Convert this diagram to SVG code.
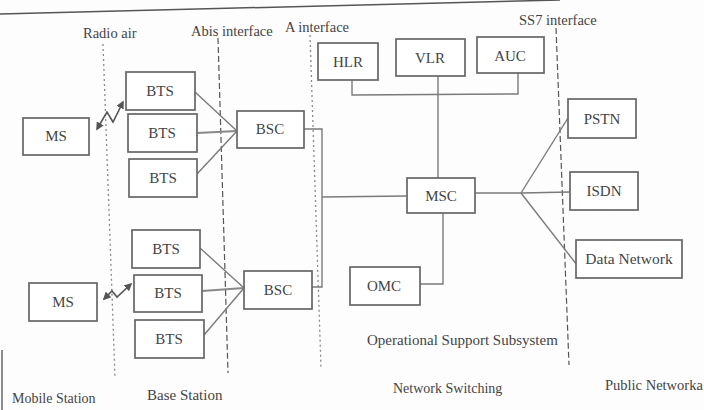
<svg xmlns="http://www.w3.org/2000/svg" width="704" height="410" viewBox="0 0 704 410">
<defs>
<style>
.box{fill:#fff;stroke:#666;stroke-width:1.7}
text{font-family:'Liberation Serif','Times New Roman','DejaVu Serif',serif;fill:#444}
.bt{font-size:15px;text-anchor:middle}
.lb{font-size:14px}
.sm{font-size:14.5px}
.ln{fill:none;stroke:#7a7a7a;stroke-width:1.4}
.dot{fill:none;stroke:#8a8a8a;stroke-width:1.3;stroke-dasharray:2 3}
.dash{fill:none;stroke:#555;stroke-width:1.2;stroke-dasharray:6 3}
</style>
<marker id="ah" viewBox="0 0 10 10" refX="8" refY="5" markerWidth="5" markerHeight="5" orient="auto-start-reverse">
<path d="M0,0 L10,5 L0,10 z" fill="#555"/>
</marker>
</defs>
<rect width="704" height="410" fill="#fdfdfd"/>
<line x1="0" y1="14" x2="560" y2="0" stroke="#555" stroke-width="1.5"/>
<line x1="2" y1="350" x2="2" y2="410" stroke="#666" stroke-width="1.5"/>

<g id="interfaces">
<line class="dot" x1="103" y1="44" x2="115" y2="378"/>
<line class="dash" x1="218" y1="38" x2="228" y2="373"/>
<line class="dot" x1="310" y1="35" x2="321" y2="368"/>
<line class="dash" x1="556" y1="28" x2="569" y2="365"/>
</g>

<g id="labels">
<text class="sm" x="83" y="38" font-size="15px">Radio air</text>
<text class="sm" x="191" y="36">Abis interface</text>
<text class="sm" x="285" y="32">A interface</text>
<text class="sm" x="519" y="25">SS7 interface</text>
<text class="lb" x="367" y="345" style="font-size:15px">Operational Support Subsystem</text>
<text class="lb" x="393" y="393">Network Switching</text>
<text class="lb" x="605" y="390" style="font-size:14.5px">Public Networka</text>
<text class="lb" x="12" y="403">Mobile Station</text>
<text class="lb" x="147" y="400" style="font-size:15px">Base Station</text>
</g>

<g id="connectors">
<polyline class="ln" points="195,92 237,131"/>
<line x1="197" y1="133" x2="237" y2="131" stroke="#888" stroke-width="2.2"/>
<polyline class="ln" points="197,174 237,131"/>
<polyline class="ln" points="200,248 244,288"/>
<line x1="202" y1="291" x2="244" y2="288" stroke="#888" stroke-width="2.2"/>
<polyline class="ln" points="204,335 244,288"/>
<polyline class="ln" points="304,129 322,129 322,287 312,287"/>
<line class="ln" x1="322" y1="197" x2="407" y2="196"/>
<polyline class="ln" points="352,80 352,95 518,94 518,73"/>
<line class="ln" x1="438" y1="76" x2="438" y2="179"/>
<polyline class="ln" points="420,284 443,284 443,213"/>
<line class="ln" x1="475" y1="193" x2="521" y2="193"/>
<line class="ln" x1="521" y1="193" x2="568" y2="118"/>
<line class="ln" x1="521" y1="193" x2="570" y2="192"/>
<line class="ln" x1="521" y1="193" x2="577" y2="265"/>
<polyline points="97,129 107,112 113,122 123,102" fill="none" stroke="#555" stroke-width="1.6" marker-start="url(#ah)" marker-end="url(#ah)"/>
<polyline points="104,299 112,291 117,297 131,284" fill="none" stroke="#555" stroke-width="1.6" marker-start="url(#ah)" marker-end="url(#ah)"/>
</g>

<g id="ms1"><rect class="box" x="23" y="118" width="66" height="37"/><text class="bt" x="56" y="141">MS</text></g>
<g id="ms2"><rect class="box" x="29" y="283" width="68" height="38"/><text class="bt" x="63" y="307">MS</text></g>
<g id="bts1"><rect class="box" x="126" y="72" width="69" height="38"/><text class="bt" x="160" y="96">BTS</text></g>
<g id="bts2"><rect class="box" x="128" y="114" width="69" height="38"/><text class="bt" x="162" y="138">BTS</text></g>
<g id="bts3"><rect class="box" x="129" y="159" width="68" height="38"/><text class="bt" x="163" y="183">BTS</text></g>
<g id="bts4"><rect class="box" x="132" y="230" width="68" height="38"/><text class="bt" x="166" y="254">BTS</text></g>
<g id="bts5"><rect class="box" x="134" y="275" width="68" height="37"/><text class="bt" x="168" y="298">BTS</text></g>
<g id="bts6"><rect class="box" x="135" y="320" width="69" height="38"/><text class="bt" x="169" y="344">BTS</text></g>
<g id="bsc1"><rect class="box" x="237" y="111" width="67" height="37"/><text class="bt" x="270" y="134">BSC</text></g>
<g id="bsc2"><rect class="box" x="244" y="271" width="68" height="38"/><text class="bt" x="278" y="295">BSC</text></g>
<g id="hlr"><rect class="box" x="318" y="43" width="60" height="37"/><text class="bt" x="348" y="67">HLR</text></g>
<g id="vlr"><rect class="box" x="396" y="39" width="69" height="37"/><text class="bt" x="430" y="63">VLR</text></g>
<g id="auc"><rect class="box" x="477" y="37" width="67" height="36"/><text class="bt" x="510" y="61">AUC</text></g>
<g id="msc"><rect class="box" x="407" y="178" width="68" height="35"/><text class="bt" x="441" y="201">MSC</text></g>
<g id="omc"><rect class="box" x="350" y="267" width="70" height="38"/><text class="bt" x="384" y="291">OMC</text></g>
<g id="pstn"><rect class="box" x="568" y="99" width="68" height="39"/><text class="bt" x="602" y="124">PSTN</text></g>
<g id="isdn"><rect class="box" x="570" y="172" width="68" height="38"/><text class="bt" x="604" y="196">ISDN</text></g>
<g id="data"><rect class="box" x="576" y="240" width="106" height="38"/><text class="bt" x="629" y="264" style="font-size:15.5px">Data Network</text></g>
</svg>
